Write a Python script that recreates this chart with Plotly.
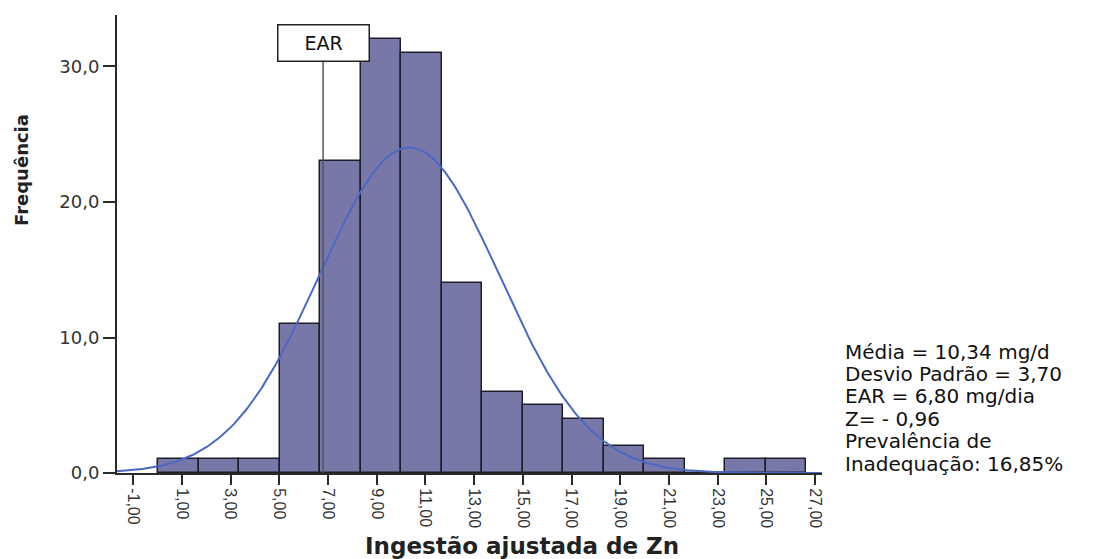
import numpy as np
import plotly.graph_objects as go

# Histogram of adjusted zinc intake (mg/day)
bin_start = 0.03
bin_width = 1.6625
frequencies = [1, 1, 1, 11, 23, 32, 31, 14, 6, 5, 4, 2, 1, 0, 1, 1]

x_ticks = [-1, 1, 3, 5, 7, 9, 11, 13, 15, 17, 19, 21, 23, 25, 27]
x_tick_labels = ["-1,00", "1,00", "3,00", "5,00", "7,00", "9,00", "11,00", "13,00",
                 "15,00", "17,00", "19,00", "21,00", "23,00", "25,00", "27,00"]
y_ticks = [0, 10, 20, 30]

mean_intake = 10.34
sd_intake = 3.70
ear_value = 6.80

stats_lines = [
    "Média = 10,34 mg/d",
    "Desvio Padrão = 3,70",
    "EAR = 6,80 mg/dia",
    "Z= - 0,96",
    "Prevalência de",
    "Inadequação: 16,85%",
]

W, H = 1107, 559
L, R, T, B = 117, 285, 15, 86
x_range = [-1.66, 27.28]
y_range = [0, 33.8]

def px_x(p):
    return (p - L) / (W - L - R)

def px_y(p):
    return 1 - (p - T) / (H - T - B)

n_total = sum(frequencies)
centers = [bin_start + bin_width * (i + 0.5) for i in range(len(frequencies))]

# Fitted normal curve scaled to counts
xs = np.linspace(x_range[0], x_range[1], 400)
ys = n_total * bin_width / (sd_intake * np.sqrt(2 * np.pi)) * np.exp(-0.5 * ((xs - mean_intake) / sd_intake) ** 2)

wide_font = "DejaVu Sans, Verdana, sans-serif"
narrow_font = "Liberation Sans, Arial, sans-serif"
axis_color = "#2a2a2a"

fig = go.Figure()
fig.add_trace(go.Bar(
    x=centers, y=frequencies, width=bin_width,
    marker=dict(color="#7878a8", line=dict(color="#1e1e2a", width=1.5)),
    hoverinfo="x+y",
))
fig.add_trace(go.Scatter(
    x=xs, y=ys, mode="lines",
    line=dict(color="#4a68c4", width=2),
    hoverinfo="skip",
))

# EAR reference line with label box
fig.add_shape(type="line", xref="x", yref="y", x0=ear_value, x1=ear_value,
              y0=0, y1=(473 - 62) / 13.55,
              line=dict(color="#555555", width=1.5))

annotations = [
    dict(x=ear_value, xref="x", y=px_y(43), yref="paper", text="EAR",
         showarrow=False, font=dict(family=wide_font, size=19, color="#111111"),
         bgcolor="white", bordercolor="#222222", borderwidth=1.5,
         width=88, height=33, xanchor="center", yanchor="middle"),
    dict(x=px_x(522), xref="paper", y=px_y(546), yref="paper",
         text="<b>Ingestão ajustada de Zn</b>", showarrow=False,
         font=dict(family=wide_font, size=23, color="#222222"),
         xanchor="center", yanchor="middle"),
    dict(x=px_x(22), xref="paper", y=px_y(170), yref="paper",
         text="<b>Frequência</b>", showarrow=False, textangle=-90,
         font=dict(family=wide_font, size=18, color="#222222"),
         xanchor="center", yanchor="middle"),
]
line_ys = [352, 374, 396, 419, 441, 464]
for txt, yy in zip(stats_lines, line_ys):
    annotations.append(dict(
        x=px_x(843), xref="paper", y=px_y(yy), yref="paper", text=txt,
        showarrow=False, xanchor="left", yanchor="middle",
        font=dict(family=wide_font, size=20, color="#111111"),
    ))

fig.update_layout(
    width=W, height=H,
    margin=dict(l=L, r=R, t=T, b=B, pad=0),
    paper_bgcolor="white", plot_bgcolor="white",
    separators=",.",
    showlegend=False,
    bargap=0,
    annotations=annotations,
    font=dict(family=wide_font),
)
fig.update_xaxes(
    range=x_range, tickvals=x_ticks, ticktext=x_tick_labels, tickangle=90,
    showline=True, linecolor=axis_color, linewidth=2,
    ticks="outside", ticklen=10, tickwidth=2, tickcolor=axis_color,
    showgrid=False, zeroline=False,
    tickfont=dict(family=narrow_font, size=16, color="#333333"),
)
fig.update_yaxes(
    range=y_range, tickvals=y_ticks, tickformat=".1f",
    showline=True, linecolor=axis_color, linewidth=2,
    ticks="outside", ticklen=12, tickwidth=2, tickcolor=axis_color,
    showgrid=False, zeroline=False,
    tickfont=dict(family=wide_font, size=18, color="#333333"),
)

fig.write_html("out.html")
